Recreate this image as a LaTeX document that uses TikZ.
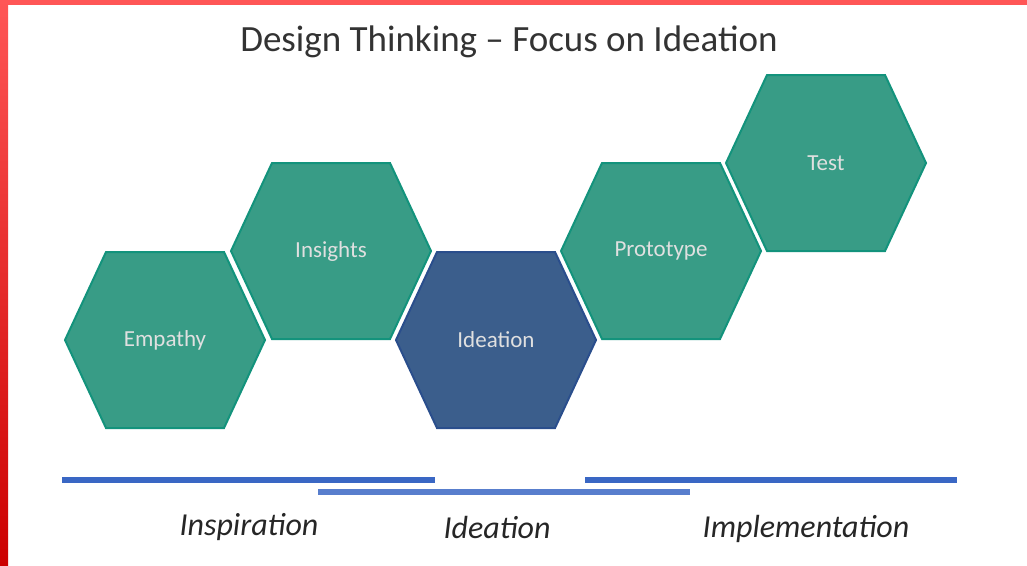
\documentclass[tikz,border=0pt]{standalone}
\usepackage{fontspec}
\setmainfont{Carlito}
\definecolor{hexteal}{HTML}{389C86}
\definecolor{hextealedge}{HTML}{13937C}
\definecolor{hexblue}{HTML}{3B5E8C}
\definecolor{hexblueedge}{HTML}{2A4E8C}
\definecolor{barblue}{HTML}{3A67C4}
\definecolor{framered}{HTML}{FF5656}
\definecolor{framemid}{HTML}{F80A0A}
\definecolor{framedark}{HTML}{CC0000}

\begin{document}
\begin{tikzpicture}[x=1pt,y=-1pt,
    hexagon/.style={line width=2pt,line join=miter},
    stage/.style={text=white!88!black,font=\fontsize{23}{27}\selectfont},
    phase/.style={text=black!85,font=\itshape\fontsize{32}{38}\selectfont},
    bar/.style={line width=6pt,draw=barblue}]
  \useasboundingbox (0,0) rectangle (1027,565);
  \fill[framered] (0,0) rectangle (1027,5);
  \shade[top color=framered,middle color=framemid,bottom color=framedark] (0,0) rectangle (8,565);
  \node[text=black!80,font=\fontsize{37}{44}\selectfont] (title) at (509,42) {Design Thinking – Focus on Ideation};
  \foreach \name/\x/\y/\col/\edge/\txt in {empathy/165/340/hexteal/hextealedge/Empathy,
      insights/331/251/hexteal/hextealedge/Insights,
      ideation/496/340/hexblue/hexblueedge/Ideation,
      prototype/661/251/hexteal/hextealedge/Prototype,
      test/826/163/hexteal/hextealedge/Test}
    \draw[hexagon,fill=\col,draw=\edge] (\x,\y) +(-100,0) -- +(-59,-88) -- +(59,-88) -- +(100,0) -- +(59,88) -- +(-59,88) -- cycle
      node[stage] (\name) at (\x,\y) {\txt};
  \draw[bar] (62,480) -- (435,480);
  \draw[bar,draw=barblue!85!white] (318,492) -- (690,492);
  \draw[bar] (585,480) -- (957,480);
  \node[phase] (inspiration) at (249,527) {Inspiration};
  \node[phase] (ideationphase) at (497,527) {Ideation};
  \node[phase] (implementation) at (806,529) {Implementation};
\end{tikzpicture}
\end{document}
